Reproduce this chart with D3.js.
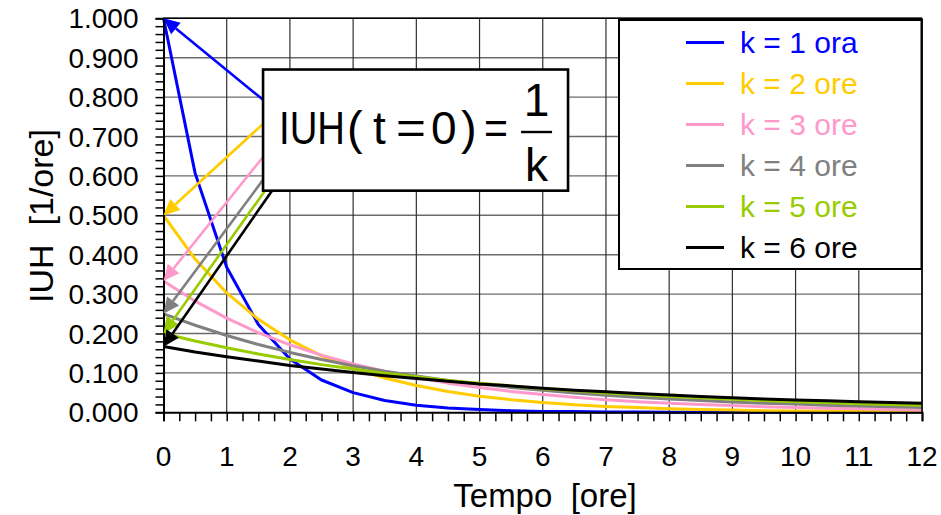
<!DOCTYPE html>
<html>
<head>
<meta charset="utf-8">
<script src="https://cdn.jsdelivr.net/npm/d3@7"></script>
<style>
  html, body { margin: 0; padding: 0; background: #fff; }
  svg { display: block; font-family: "Liberation Sans", Arial, sans-serif; }
</style>
</head>
<body>
<svg id="chart" width="941" height="515"></svg>
<script>
// Istanti di campionamento [ore]
const times = [0, 0.5, 1, 1.5, 2, 2.5, 3, 3.5, 4, 4.5, 5, 5.5, 6, 6.5, 7, 7.5, 8, 8.5, 9, 9.5, 10, 10.5, 11, 11.5, 12];

// Valori IUH [1/ore] per ciascun k
const iuhK1 = [1.000, 0.607, 0.368, 0.223, 0.135, 0.082, 0.050, 0.030, 0.018, 0.011, 0.007, 0.004, 0.002, 0.002, 0.001, 0.001, 0.000, 0.000, 0.000, 0.000, 0.000, 0.000, 0.000, 0.000, 0.000];
const iuhK2 = [0.500, 0.389, 0.303, 0.236, 0.184, 0.143, 0.112, 0.087, 0.068, 0.053, 0.041, 0.032, 0.025, 0.019, 0.015, 0.012, 0.009, 0.007, 0.006, 0.004, 0.003, 0.003, 0.002, 0.002, 0.001];
const iuhK3 = [0.333, 0.282, 0.239, 0.202, 0.171, 0.145, 0.123, 0.104, 0.088, 0.074, 0.063, 0.053, 0.045, 0.038, 0.032, 0.027, 0.023, 0.020, 0.017, 0.014, 0.012, 0.010, 0.009, 0.007, 0.006];
const iuhK4 = [0.250, 0.221, 0.195, 0.172, 0.152, 0.134, 0.118, 0.104, 0.092, 0.081, 0.072, 0.063, 0.056, 0.049, 0.043, 0.038, 0.034, 0.030, 0.026, 0.023, 0.021, 0.018, 0.016, 0.014, 0.012];
const iuhK5 = [0.200, 0.181, 0.164, 0.148, 0.134, 0.121, 0.110, 0.099, 0.090, 0.081, 0.074, 0.067, 0.060, 0.055, 0.049, 0.045, 0.040, 0.037, 0.033, 0.030, 0.027, 0.024, 0.022, 0.020, 0.018];
const iuhK6 = [0.167, 0.153, 0.141, 0.130, 0.119, 0.110, 0.101, 0.093, 0.086, 0.079, 0.072, 0.067, 0.061, 0.056, 0.052, 0.048, 0.044, 0.040, 0.037, 0.034, 0.031, 0.029, 0.027, 0.025, 0.023];

const seriesLabels = ["k = 1 ora", "k = 2 ore", "k = 3 ore", "k = 4 ore", "k = 5 ore", "k = 6 ore"];
const seriesColors = ["#0000ff", "#ffcc00", "#ff99cc", "#808080", "#99cc00", "#000000"];
const seriesValues = [iuhK1, iuhK2, iuhK3, iuhK4, iuhK5, iuhK6];
// Valore iniziale 1/k a cui punta ciascuna freccia
const kValues = [1, 2, 3, 4, 5, 6];

const xTickValues = [0, 1, 2, 3, 4, 5, 6, 7, 8, 9, 10, 11, 12];
const yTickValues = [0, 0.1, 0.2, 0.3, 0.4, 0.5, 0.6, 0.7, 0.8, 0.9, 1.0];

// Riquadro della formula (coordinate del grafico) e punti di partenza delle frecce
const formulaBox = { t0: 1.575, t1: 6.40, v0: 0.5625, v1: 0.870 };
const arrowStartT = [1.575, 1.575, 1.575, 1.575, 1.606, 1.717];
const arrowStartV = [0.793, 0.732, 0.648, 0.590, 0.5625, 0.5625];

const svg = d3.select("#chart");
const margin = { left: 163.5, right: 19, top: 18.3, bottom: 102.7 };
const W = 941, H = 515;

const x = d3.scaleLinear().domain([0, 12]).range([margin.left, W - margin.right]);
const y = d3.scaleLinear().domain([0, 1]).range([H - margin.bottom, margin.top]);

// Griglia
const grid = svg.append("g");
grid.selectAll("line.h").data(yTickValues.slice(1)).join("line")
  .attr("x1", x(0)).attr("x2", x(12))
  .attr("y1", d => y(d)).attr("y2", d => y(d))
  .attr("stroke", "#6a6a6a").attr("stroke-width", 1.4);
grid.selectAll("line.v").data(xTickValues.slice(1)).join("line")
  .attr("x1", d => x(d)).attr("x2", d => x(d))
  .attr("y1", y(0)).attr("y2", y(1))
  .attr("stroke", "#303030").attr("stroke-width", 1.2);

// Curve IUH
const line = d3.line().x((d, i) => x(times[i])).y(d => y(d));
svg.append("g").selectAll("path").data(seriesValues).join("path")
  .attr("d", d => line(d))
  .attr("fill", "none")
  .attr("stroke", (d, i) => seriesColors[i])
  .attr("stroke-width", 3)
  .attr("stroke-linejoin", "round");

// Assi
const xAxis = d3.axisBottom(x).tickValues(d3.range(0, 12.001, 0.25)).tickSize(9).tickFormat("");
const gx = svg.append("g").attr("transform", `translate(0,${y(0)})`).call(xAxis);
gx.select(".domain").attr("stroke", "#000").attr("stroke-width", 2);
gx.selectAll(".tick line").attr("stroke", "#000").attr("stroke-width", 1.5);

const yAxis = d3.axisLeft(y).tickValues(d3.range(0, 1.0001, 0.02)).tickSize(8).tickFormat("");
const gy = svg.append("g").attr("transform", `translate(${x(0)},0)`).call(yAxis);
gy.select(".domain").attr("stroke", "#000").attr("stroke-width", 2);
gy.selectAll(".tick line").attr("stroke", "#000").attr("stroke-width", 1.5);

// Etichette dei tick
svg.append("g").selectAll("text").data(xTickValues).join("text")
  .attr("x", d => x(d)).attr("y", y(0) + 54)
  .attr("text-anchor", "middle").attr("font-size", 28).text(d => d);
svg.append("g").selectAll("text").data(yTickValues).join("text")
  .attr("x", x(0) - 25).attr("y", d => y(d))
  .attr("dy", "0.36em")
  .attr("text-anchor", "end").attr("font-size", 28).text(d => d3.format(".3f")(d));

// Bordo superiore e destro dell'area del grafico
svg.append("line").attr("x1", x(0)).attr("x2", x(12)).attr("y1", y(1)).attr("y2", y(1))
  .attr("stroke", "#000").attr("stroke-width", 1.5);
svg.append("line").attr("x1", x(12)).attr("x2", x(12)).attr("y1", y(1)).attr("y2", y(0))
  .attr("stroke", "#000").attr("stroke-width", 1.5);

// Titoli degli assi
svg.append("text").attr("x", 545).attr("y", 507).attr("text-anchor", "middle")
  .attr("font-size", 33).attr("xml:space", "preserve").text("Tempo  [ore]");
svg.append("text").attr("transform", "translate(53,216) rotate(-90)")
  .attr("text-anchor", "middle").attr("font-size", 34)
  .attr("xml:space", "preserve").text("IUH  [1/ore]");

// Frecce verso i valori iniziali 1/k
const arrows = svg.append("g");
kValues.forEach((k, i) => {
  const x1 = x(arrowStartT[i]), y1 = y(arrowStartV[i]);
  const x2 = x(0), y2 = y(1 / k);
  const ang = Math.atan2(y2 - y1, x2 - x1);
  const L = 16, hw = 7.5;
  const bx = x2 - L * Math.cos(ang), by = y2 - L * Math.sin(ang);
  arrows.append("line").attr("x1", x1).attr("y1", y1).attr("x2", bx).attr("y2", by)
    .attr("stroke", seriesColors[i]).attr("stroke-width", 2.6);
  arrows.append("polygon")
    .attr("points", [
      [x2, y2],
      [bx + hw * Math.sin(ang), by - hw * Math.cos(ang)],
      [bx - hw * Math.sin(ang), by + hw * Math.cos(ang)]
    ].map(p => p.join(",")).join(" "))
    .attr("fill", seriesColors[i]);
});

// Riquadro con la formula IUH(t = 0) = 1/k
const fbX = x(formulaBox.t0), fbY = y(formulaBox.v1);
const fbW = x(formulaBox.t1) - fbX, fbH = y(formulaBox.v0) - fbY;
const fb = svg.append("g").attr("transform", `translate(${fbX},${fbY})`);
fb.append("rect").attr("width", fbW).attr("height", fbH)
  .attr("fill", "#fff").attr("stroke", "#000").attr("stroke-width", 2.6);
// "IUH" in carattere stretto: altezza maiuscole allungata in verticale
fb.append("text").attr("transform", "translate(16,74) scale(1,1.2)")
  .attr("font-size", 38.3).text("IUH");
const eq = fb.append("text").attr("font-size", 46).attr("fill", "#000").attr("y", 74);
eq.append("tspan").attr("x", 84).attr("font-size", 47).text("(");
eq.append("tspan").attr("x", 110).text("t");
eq.append("tspan").attr("x", 133).attr("textLength", 30)
  .attr("lengthAdjust", "spacingAndGlyphs").text("=");
eq.append("tspan").attr("x", 168).text("0");
eq.append("tspan").attr("x", 198).attr("font-size", 47).text(")");
eq.append("tspan").attr("x", 221).attr("textLength", 24)
  .attr("lengthAdjust", "spacingAndGlyphs").text("=");
fb.append("line").attr("x1", 258).attr("x2", 289).attr("y1", 62.5).attr("y2", 62.5)
  .attr("stroke", "#000").attr("stroke-width", 2.4);
fb.append("text").attr("font-size", 46).attr("x", 273.5).attr("y", 46)
  .attr("text-anchor", "middle").text("1");
fb.append("text").attr("font-size", 46).attr("x", 273.5).attr("y", 111)
  .attr("text-anchor", "middle").text("k");

// Legenda
const lg = svg.append("g").attr("transform", "translate(619,20)");
lg.append("rect").attr("width", 302.5).attr("height", 249)
  .attr("fill", "#fff").attr("stroke", "#000").attr("stroke-width", 2);
const items = lg.selectAll("g.item").data(seriesLabels).join("g")
  .attr("transform", (d, i) => `translate(0,${22.5 + i * 41})`);
items.append("line").attr("x1", 67).attr("x2", 105).attr("y1", 0).attr("y2", 0)
  .attr("stroke", (d, i) => seriesColors[i]).attr("stroke-width", 3);
items.append("text").attr("x", 121).attr("y", 0).attr("dy", "0.36em")
  .attr("font-size", 30).attr("fill", (d, i) => seriesColors[i]).text(d => d);
</script>
</body>
</html>
